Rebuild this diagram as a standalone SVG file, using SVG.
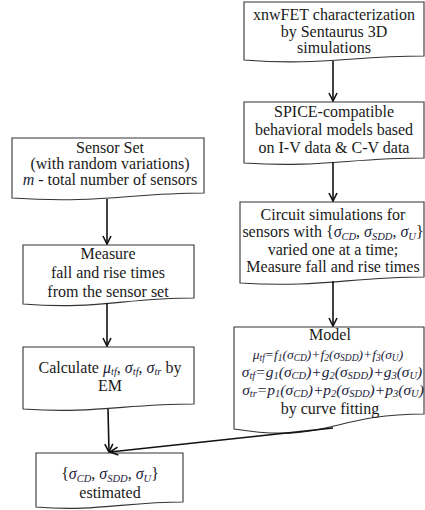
<svg xmlns="http://www.w3.org/2000/svg" width="425" height="510" viewBox="0 0 425 510">
  <defs>
    <marker id="arrow" viewBox="0 0 10 10" refX="9" refY="5" markerWidth="10" markerHeight="10" markerUnits="userSpaceOnUse" orient="auto">
      <path d="M1,1 L9,5 L1,9" fill="none" stroke="#111" stroke-width="1.6"/>
    </marker>
  </defs>
  <style>
    .doc { fill: #ffffff; stroke: #333; stroke-width: 1.1; }
    .t { font-family: "Liberation Serif", "Times New Roman", serif; font-size: 16px; fill: #1a1a1a; text-anchor: middle; }
    .i { font-style: italic; fill: #1c1c3a; }
    .s { font-size: 10.5px; }
    .f1 { font-size: 13.5px; }
    .f2 { font-size: 15.5px; }
    .fs { font-size: 9.5px; }
    .link { fill: none; stroke: #111; stroke-width: 1.6; marker-end: url(#arrow); }
  </style>

  <rect width="425" height="510" fill="#ffffff"/>

  <!-- right column -->
  <g id="characterization">
    <path class="doc" d="M244,2 H424 V56 C350,56 320,66 244,60 Z"/>
    <text class="t" x="334" y="20">xnwFET characterization</text>
    <text class="t" x="334" y="37">by Sentaurus 3D</text>
    <text class="t" x="334" y="53">simulations</text>
  </g>

  <g id="spice-models">
    <path class="doc" d="M244,102 H424 V158 C350,158 320,168 244,163 Z"/>
    <text class="t" x="334" y="117">SPICE-compatible</text>
    <text class="t" x="334" y="135">behavioral models based</text>
    <text class="t" x="334" y="153">on I-V data &amp; C-V data</text>
  </g>

  <g id="circuit-simulations">
    <path class="doc" d="M240,202 H424 V277 C350,277 320,288 240,283 Z"/>
    <text class="t" x="333" y="220">Circuit simulations for</text>
    <text class="t" x="333" y="237">sensors with {<tspan class="i">σ</tspan><tspan class="i s" dy="3">CD</tspan><tspan dy="-3">, </tspan><tspan class="i">σ</tspan><tspan class="i s" dy="3">SDD</tspan><tspan dy="-3">, </tspan><tspan class="i">σ</tspan><tspan class="i s" dy="3">U</tspan><tspan dy="-3">}</tspan></text>
    <text class="t" x="333" y="255">varied one at a time;</text>
    <text class="t" x="333" y="272">Measure fall and rise times</text>
  </g>

  <g id="model">
    <path class="doc" d="M234,327 H424 V414 C330,414 329,444 234,429 Z"/>
    <text class="t" x="330" y="340">Model</text>
    <text class="t i f1" x="328" y="359">μ<tspan class="fs" dy="2">tf</tspan><tspan dy="-2">=f</tspan><tspan class="fs" dy="2">1</tspan><tspan dy="-2">(σ</tspan><tspan class="fs" dy="2">CD</tspan><tspan dy="-2">)+f</tspan><tspan class="fs" dy="2">2</tspan><tspan dy="-2">(σ</tspan><tspan class="fs" dy="2">SDD</tspan><tspan dy="-2">)+f</tspan><tspan class="fs" dy="2">3</tspan><tspan dy="-2">(σ</tspan><tspan class="fs" dy="2">U</tspan><tspan dy="-2">)</tspan></text>
    <text class="t i f2" x="332" y="377">σ<tspan class="s" dy="2">tf</tspan><tspan dy="-2">=g</tspan><tspan class="s" dy="2">1</tspan><tspan dy="-2">(σ</tspan><tspan class="s" dy="2">CD</tspan><tspan dy="-2">)+g</tspan><tspan class="s" dy="2">2</tspan><tspan dy="-2">(σ</tspan><tspan class="s" dy="2">SDD</tspan><tspan dy="-2">)+g</tspan><tspan class="s" dy="2">3</tspan><tspan dy="-2">(σ</tspan><tspan class="s" dy="2">U</tspan><tspan dy="-2">)</tspan></text>
    <text class="t i f2" x="333" y="395">σ<tspan class="s" dy="2">tr</tspan><tspan dy="-2">=p</tspan><tspan class="s" dy="2">1</tspan><tspan dy="-2">(σ</tspan><tspan class="s" dy="2">CD</tspan><tspan dy="-2">)+p</tspan><tspan class="s" dy="2">2</tspan><tspan dy="-2">(σ</tspan><tspan class="s" dy="2">SDD</tspan><tspan dy="-2">)+p</tspan><tspan class="s" dy="2">3</tspan><tspan dy="-2">(σ</tspan><tspan class="s" dy="2">U</tspan><tspan dy="-2">)</tspan></text>
    <text class="t" x="330" y="414">by curve fitting</text>
  </g>

  <!-- left column -->
  <g id="sensor-set">
    <path class="doc" d="M12,138 H204 V193 C130,193 100,204 12,198 Z"/>
    <text class="t" x="110" y="153">Sensor Set</text>
    <text class="t" x="110" y="169">(with random variations)</text>
    <text class="t" x="110" y="185"><tspan class="i">m</tspan> - total number of sensors</text>
  </g>

  <g id="measure">
    <path class="doc" d="M23,245 H194 V298 C125,298 95,310 23,304 Z"/>
    <text class="t" x="108" y="259">Measure</text>
    <text class="t" x="108" y="278">fall and rise times</text>
    <text class="t" x="108" y="297">from the sensor set</text>
  </g>

  <g id="calculate">
    <path class="doc" d="M23,347 H194 V404 C125,404 95,414 23,409 Z"/>
    <text class="t" x="110" y="373">Calculate <tspan class="i">μ</tspan><tspan class="i s" dy="2">tf</tspan><tspan dy="-2">, </tspan><tspan class="i">σ</tspan><tspan class="i s" dy="2">tf</tspan><tspan dy="-2">, </tspan><tspan class="i">σ</tspan><tspan class="i s" dy="2">tr</tspan><tspan dy="-2"> by</tspan></text>
    <text class="t" x="110" y="391">EM</text>
  </g>

  <g id="estimated">
    <path class="doc" d="M36,453 H183 V502 C125,502 95,512 36,507 Z"/>
    <text class="t" x="110" y="479">{<tspan class="i">σ</tspan><tspan class="i s" dy="2.5">CD</tspan><tspan dy="-2.5">, </tspan><tspan class="i">σ</tspan><tspan class="i s" dy="2.5">SDD</tspan><tspan dy="-2.5">, </tspan><tspan class="i">σ</tspan><tspan class="i s" dy="2.5">U</tspan><tspan dy="-2.5">}</tspan></text>
    <text class="t" x="110" y="498">estimated</text>
  </g>

  <g id="connectors">
    <path class="link" d="M333,61 V101"/>
    <path class="link" d="M333,162 V201"/>
    <path class="link" d="M333,281 V326"/>
    <path class="link" d="M107,199 V244"/>
    <path class="link" d="M107,303 V346"/>
    <path class="link" d="M108,409 L109,452"/>
    <path class="link" d="M333,428 L110,452"/>
  </g>
</svg>
